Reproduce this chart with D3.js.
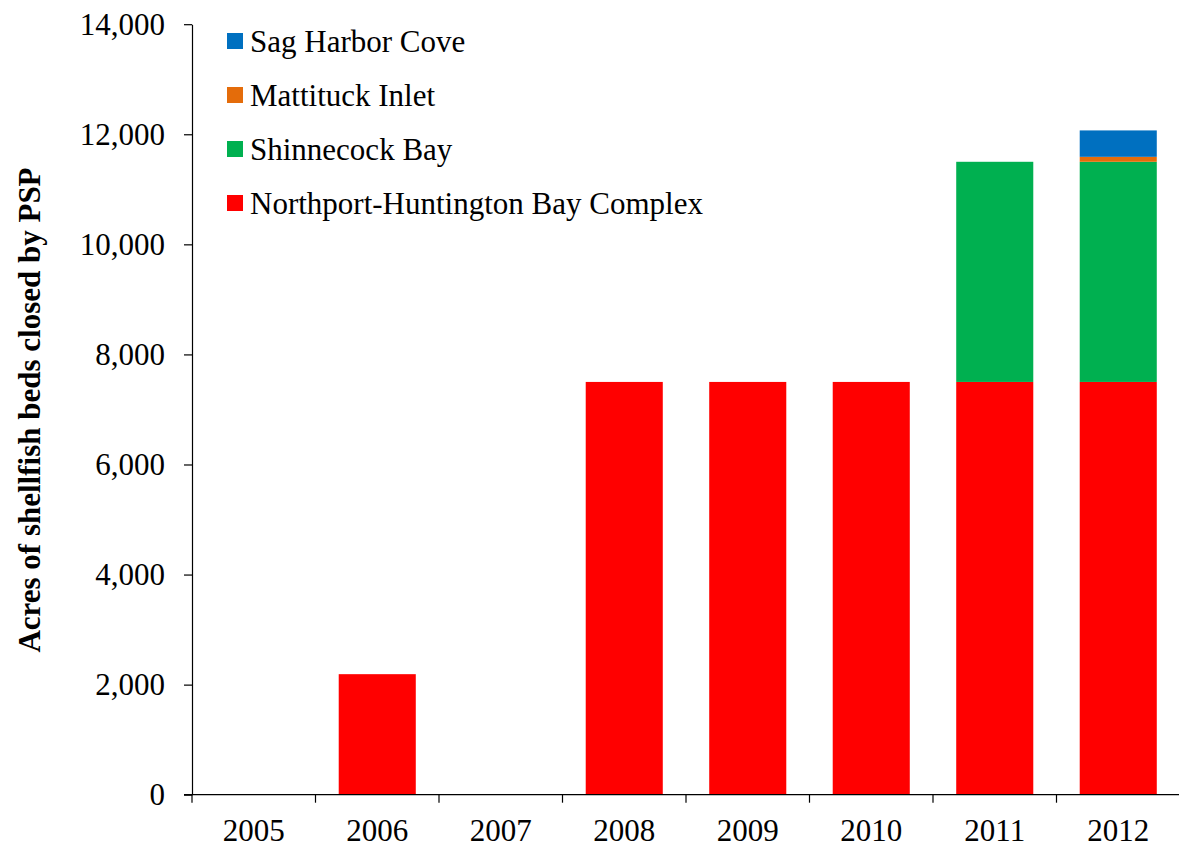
<!DOCTYPE html>
<html>
<head>
<meta charset="utf-8">
<script src="https://cdn.jsdelivr.net/npm/d3@7"></script>
<style>
  html, body { margin: 0; padding: 0; background: #fff; }
  svg { display: block; }
  text { font-family: "Liberation Serif", "Times New Roman", serif; fill: #000; }
</style>
</head>
<body>
<svg id="chart" width="1179" height="850"></svg>
<script>
// Acres of shellfish beds closed by PSP, by year and area
const years = ["2005", "2006", "2007", "2008", "2009", "2010", "2011", "2012"];
const northport = [0, 2190, 0, 7500, 7500, 7500, 7500, 7500];
const shinnecock = [0, 0, 0, 0, 0, 0, 4000, 4000];
const mattituck = [0, 0, 0, 0, 0, 0, 0, 90];
const sagHarbor = [0, 0, 0, 0, 0, 0, 0, 480];
const yTicks = [0, 2000, 4000, 6000, 8000, 10000, 12000, 14000];

const seriesNames = ["Northport-Huntington Bay Complex", "Shinnecock Bay", "Mattituck Inlet", "Sag Harbor Cove"];
const seriesColors = ["#FF0000", "#00B050", "#E46C0A", "#0070C0"];
const seriesValues = [northport, shinnecock, mattituck, sagHarbor];

const FONT = '"Liberation Serif", "Times New Roman", serif';
const svg = d3.select("#chart");
const left = 192;

const x = d3.scaleBand().domain(years).range([left, 1180]).paddingInner(0.376).paddingOuter(0.188);
const y = d3.scaleLinear().domain([0, 14000]).range([794.7, 24.2]);

const rows = years.map((yr, i) => {
  const r = { year: yr };
  seriesNames.forEach((s, k) => { r[s] = seriesValues[k][i]; });
  return r;
});
const stacked = d3.stack().keys(seriesNames)(rows);

// stacked bars
svg.append("g").selectAll("g")
  .data(stacked)
  .join("g")
  .attr("fill", (d, i) => seriesColors[i])
  .selectAll("rect")
  .data(d => d.filter(p => p[1] - p[0] > 0))
  .join("rect")
  .attr("x", d => x(d.data.year))
  .attr("width", x.bandwidth())
  .attr("y", d => y(d[1]))
  .attr("height", d => y(d[0]) - y(d[1]));

// y axis
const yAxis = svg.append("g")
  .attr("transform", `translate(${left},0)`)
  .call(d3.axisLeft(y).tickValues(yTicks).tickFormat(d3.format(",")).tickSizeInner(8).tickSizeOuter(0).tickPadding(19));
yAxis.attr("font-family", FONT).attr("font-size", 31);
yAxis.select(".domain").attr("stroke", "#000").attr("stroke-width", 1.2);
yAxis.selectAll(".tick line").attr("stroke", "#000").attr("stroke-width", 1.2);
yAxis.selectAll(".tick text").style("font-family", FONT).style("font-size", "31px").attr("fill", "#000");

// x axis with category boundary ticks
const xAxisG = svg.append("g").attr("transform", `translate(0,${y(0)})`);
xAxisG.append("line")
  .attr("x1", left - 8).attr("x2", 1179)
  .attr("stroke", "#000").attr("stroke-width", 1.2);
const half = x.step() * x.paddingInner() / 2;
const bounds = years.map(yr => x(yr) - half);
xAxisG.selectAll("line.sep")
  .data(bounds)
  .join("line")
  .attr("class", "sep")
  .attr("x1", d => d).attr("x2", d => d)
  .attr("y1", 0).attr("y2", 8)
  .attr("stroke", "#000").attr("stroke-width", 1.2);
xAxisG.selectAll("text")
  .data(years)
  .join("text")
  .attr("x", d => x(d) + x.bandwidth() / 2)
  .attr("y", 46)
  .attr("text-anchor", "middle")
  .style("font-size", "31px")
  .text(d => d);

// y axis title
svg.append("text")
  .attr("transform", "translate(40,410) rotate(-90)")
  .attr("text-anchor", "middle")
  .style("font-size", "31px")
  .style("font-weight", "bold")
  .text("Acres of shellfish beds closed by PSP");

// legend
const legendOrder = [3, 2, 1, 0];
const legend = svg.append("g");
legendOrder.forEach((k, i) => {
  const gy = 33 + i * 54;
  legend.append("rect")
    .attr("x", 227).attr("y", gy)
    .attr("width", 16).attr("height", 16)
    .attr("fill", seriesColors[k]);
  legend.append("text")
    .attr("x", 250).attr("y", gy + 19)
    .style("font-size", "31px")
    .text(seriesNames[k]);
});
</script>
</body>
</html>
